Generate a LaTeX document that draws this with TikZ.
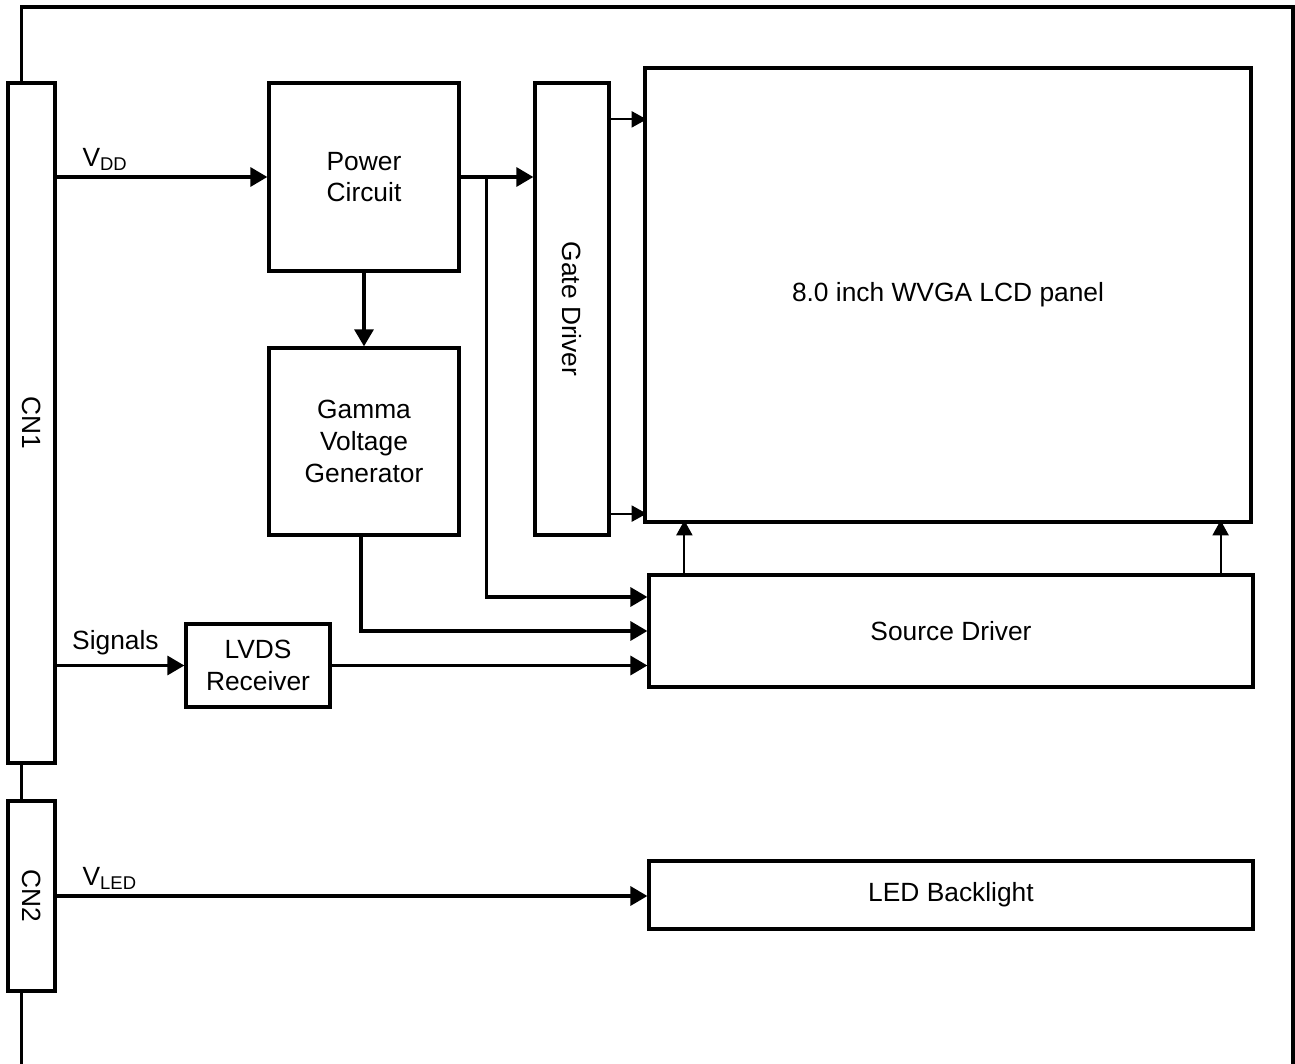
\documentclass[tikz,border=0pt]{standalone}
\usepackage{fontspec}
\setmainfont{Liberation Sans}
\usetikzlibrary{positioning,calc,arrows.meta}

\begin{document}
\begin{tikzpicture}[x=0.02cm, y=-0.02cm,
  blk/.style={draw, line width=1.9pt, align=center, inner sep=0pt,
              font=\fontsize{15}{18}\selectfont},
  sig/.style={line width=1.9pt, -{Triangle[length=0.34cm, width=0.38cm]}},
  tap/.style={line width=1.2pt, -{Triangle[length=0.3cm, width=0.32cm]}},
  frame/.style={line width=1.9pt},
  lbl/.style={font=\fontsize{15}{18}\selectfont, inner sep=3pt},
]
\useasboundingbox (0,0) rectangle (1295,1064);

% connectors on the left
\node[blk, minimum width=0.94cm, minimum height=13.6cm] (cn1) at (31.5,423) {\rotatebox{-90}{CN1}};
\node[blk, minimum width=0.94cm, minimum height=3.8cm] (cn2) at (31.5,896) {\rotatebox{-90}{CN2}};

% blocks
\node[blk, minimum width=3.8cm, minimum height=3.76cm] (power) at (364,177) {Power\\Circuit};
\node[blk, minimum width=3.8cm, minimum height=3.74cm] (gamma) at (364,441.5) {Gamma\\Voltage\\Generator};
\node[blk, minimum width=1.48cm, minimum height=9.04cm] (gate) at (572,309) {\rotatebox{-90}{Gate Driver}};
\node[blk, minimum width=12.12cm, minimum height=9.08cm] (lcd) at (948,295) {8.0 inch WVGA LCD panel};
\node[blk, minimum width=12.08cm, minimum height=2.24cm] (source) at (951,631) {Source Driver};
\node[blk, minimum width=2.88cm, minimum height=1.66cm] (lvds) at (258,665.5) {LVDS\\Receiver};
\node[blk, minimum width=12.08cm, minimum height=1.36cm] (led) at (951,895) {LED Backlight};

% outer frame
\draw[frame] ($(cn1.north west)+(15,0)$) |- (1293,7) -- (1293,1064);
\draw[frame] ($(cn1.south west)+(15,0)$) -- ($(cn2.north west)+(15,0)$);
\draw[frame] ($(cn2.south west)+(15,0)$) -- ++(0,73);

% power path
\draw[sig] (cn1.east |- power.west) -- node[lbl, pos=0.23, above] {V\textsubscript{DD}} (power.west);
\draw[sig] (power.east) -- (gate.west |- power.east);
\coordinate (jn) at ($(power.east)+(26,0)$);
\draw[sig] (jn) |- ($(source.west)+(0,-34)$);
\draw[sig] (power.south) -- (gamma.north);
\draw[sig] ($(gamma.south)+(-3,0)$) |- (source.west);

% signals
\draw[sig] (cn1.east |- lvds.west) -- node[lbl, pos=0.46, above, yshift=2pt] {Signals} (lvds.west);
\draw[sig] (lvds.east) -- (lvds.east -| source.west);

% driver outputs
\draw[tap] ($(gate.north east)+(0,38)$) -- ($(gate.north east)+(36,38)$);
\draw[tap] ($(gate.south east)+(0,-23)$) -- ($(gate.south east)+(36,-23)$);
\draw[tap] ($(source.north west)+(37,0)$) -- ($(source.north west)+(37,-53)$);
\draw[tap] ($(source.north east)+(-34,0)$) -- ($(source.north east)+(-34,-53)$);

% backlight
\draw[sig] (cn2.east) -- node[lbl, pos=0.09, above] {V\textsubscript{LED}} (cn2.east -| led.west);

\end{tikzpicture}
\end{document}
